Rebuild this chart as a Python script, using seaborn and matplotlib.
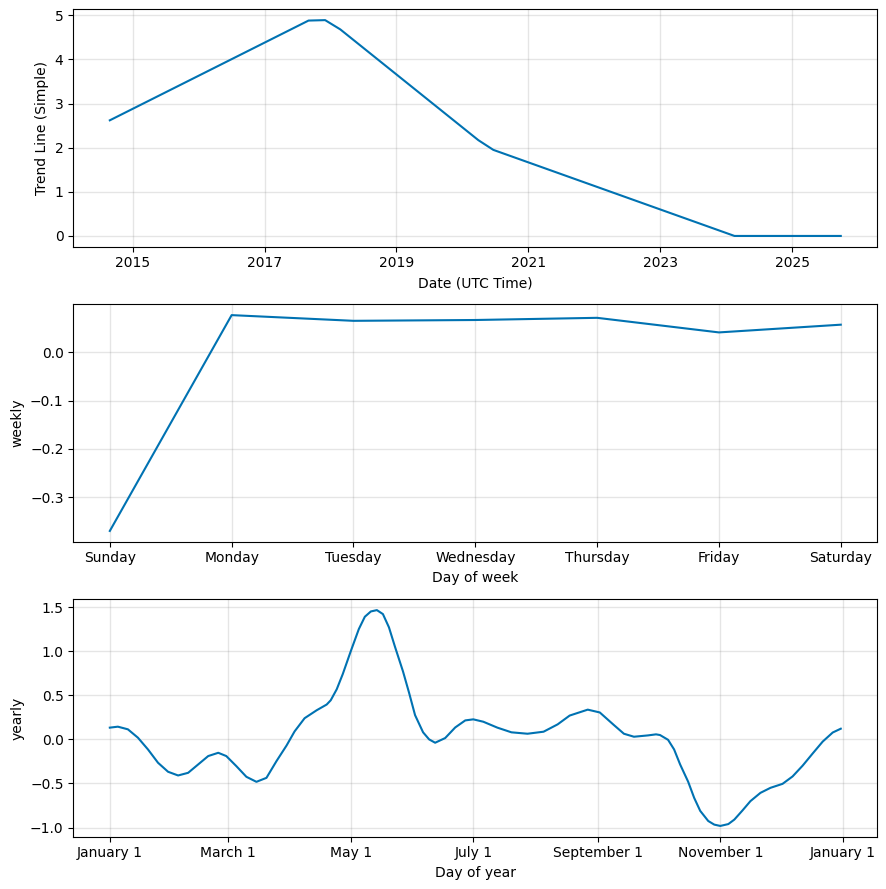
import pandas as pd
import numpy as np
import matplotlib
matplotlib.use("Agg")
import matplotlib.pyplot as plt
import matplotlib.dates as mdates
from matplotlib.ticker import FuncFormatter
import seaborn as sns

# trend component (kinks)
trend_dates = ['2014-08-27', '2017-09-01', '2017-12-02', '2018-02-24',
               '2020-03-30', '2020-06-21', '2024-02-17', '2025-09-28']
trend_values = [2.62, 4.88, 4.89, 4.68, 2.17, 1.95, 0.0, 0.0]

# weekly component
week_days = ['Sunday', 'Monday', 'Tuesday', 'Wednesday', 'Thursday', 'Friday', 'Saturday']
weekly_values = [-0.370, 0.0768, 0.065, 0.0667, 0.0712, 0.041, 0.057]

# yearly component, day offset from Jan 1
year_days = [0, 4, 9, 14, 19, 24, 29, 34, 39, 44, 49, 54, 58, 63, 68, 73, 78, 83,
             88, 92, 97, 103, 108, 110, 113, 116, 120, 124, 127, 130, 133, 136, 139,
             142, 146, 149, 152, 156, 159, 162, 167, 172, 177, 181, 186, 193, 200,
             208, 216, 223, 229, 238, 244, 251, 256, 261, 268, 272, 274, 278, 281,
             284, 288, 291, 294, 298, 301, 304, 308, 311, 315, 319, 324, 329, 335,
             340, 345, 350, 355, 360, 364]
yearly_values = [0.133, 0.144, 0.114, 0.019, -0.114, -0.265, -0.367, -0.409, -0.379,
                 -0.284, -0.189, -0.152, -0.189, -0.303, -0.424, -0.481, -0.436, -0.246,
                 -0.07, 0.09, 0.24, 0.33, 0.395, 0.443, 0.568, 0.74, 1.0, 1.25, 1.39,
                 1.45, 1.465, 1.42, 1.27, 1.05, 0.77, 0.53, 0.275, 0.08, 0.0, -0.038,
                 0.015, 0.135, 0.215, 0.227, 0.2, 0.133, 0.08, 0.064, 0.087, 0.17,
                 0.27, 0.337, 0.305, 0.163, 0.064, 0.03, 0.045, 0.057, 0.049, -0.005,
                 -0.114, -0.284, -0.48, -0.663, -0.81, -0.925, -0.966, -0.981, -0.96,
                 -0.909, -0.807, -0.70, -0.606, -0.549, -0.504, -0.42, -0.298, -0.16,
                 -0.025, 0.078, 0.121]

line_color = '#0072B2'

fig, axes = plt.subplots(3, 1, figsize=(8.86, 8.89), dpi=100, facecolor='w')
fig.subplots_adjust(left=0.0827, right=0.9902, top=0.9895, bottom=0.0588, hspace=0.2426)

# ✅ trend
ax = axes[0]
trend_df = pd.DataFrame({'ds': pd.to_datetime(trend_dates), 'trend': trend_values})
sns.lineplot(data=trend_df, x='ds', y='trend', ax=ax, color=line_color)
locator = mdates.AutoDateLocator(interval_multiples=False)
ax.xaxis.set_major_locator(locator)
ax.xaxis.set_major_formatter(mdates.AutoDateFormatter(locator))
ax.set_xlabel('Date (UTC Time)')
ax.set_ylabel('Trend Line (Simple)')

# ✅ weekly
ax = axes[1]
sns.lineplot(x=list(range(len(week_days))), y=weekly_values, ax=ax, color=line_color)
ax.set_xticks(range(len(week_days)))
ax.set_xticklabels(week_days)
ax.set_xlabel('Day of week')
ax.set_ylabel('weekly')

# ✅ yearly
ax = axes[2]
yearly_df = pd.DataFrame({
    'ds': pd.Timestamp('2017-01-01') + pd.to_timedelta(year_days, unit='D'),
    'yearly': yearly_values,
})
sns.lineplot(data=yearly_df, x='ds', y='yearly', ax=ax, color=line_color)
ax.xaxis.set_major_locator(mdates.MonthLocator(range(1, 13), bymonthday=1, interval=2))
ax.xaxis.set_major_formatter(FuncFormatter(
    lambda x, pos=None: '{dt:%B} {dt.day}'.format(dt=mdates.num2date(x))))
ax.set_xlabel('Day of year')
ax.set_ylabel('yearly')

for ax in axes:
    ax.grid(True, which='major', c='gray', ls='-', lw=1, alpha=0.2)

fig.savefig('out.png', dpi=100, facecolor='w')
